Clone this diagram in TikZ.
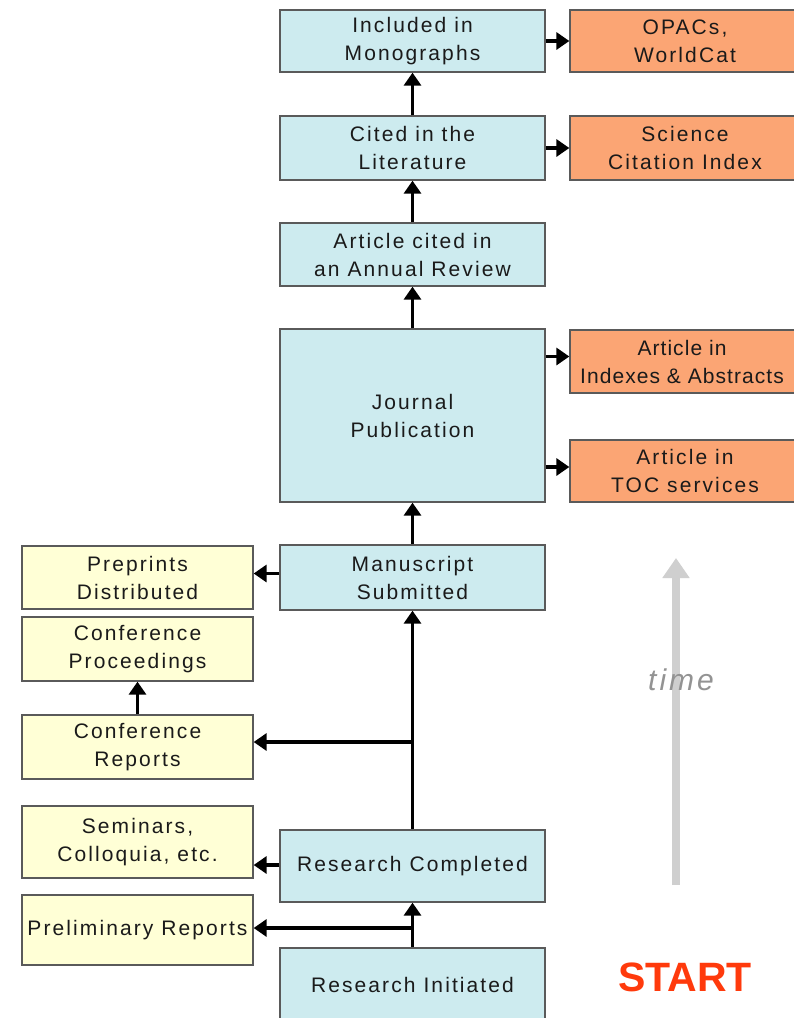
\documentclass[tikz,border=0pt]{standalone}
\usepackage{fontspec}
\setmainfont{Liberation Sans}[LetterSpace=10]
\newfontfamily\startfont{Liberation Sans}
\newfontfamily\tightfont{Liberation Sans}[LetterSpace=5]
\usetikzlibrary{arrows.meta}
\definecolor{bluebox}{HTML}{CDEBEF}
\definecolor{orangebox}{HTML}{FBA574}
\definecolor{yellowbox}{HTML}{FFFFD6}
\definecolor{boxline}{HTML}{5A5A5A}
\definecolor{textcol}{HTML}{1A1A1A}
\definecolor{startred}{HTML}{FF3A0C}
\definecolor{timegray}{HTML}{CFCFCF}
\begin{document}
\begin{tikzpicture}[x=1pt,y=-1pt,
  box/.style={draw=boxline, line width=1.3pt, align=center, inner sep=0pt,
    font=\fontsize{21}{28}\selectfont, text=textcol},
  bluenode/.style={box, fill=bluebox, minimum width=265pt},
  orangenode/.style={box, fill=orangebox, minimum width=230pt},
  yellownode/.style={box, fill=yellowbox, minimum width=231pt},
  flow/.style={line width=3.5pt, black, -{Triangle[length=13pt,width=17pt]}},
  timearrow/.style={line width=8pt, timegray, -{Triangle[length=20pt,width=26pt]}}
]
\useasboundingbox (0,0) rectangle (793,1018);
\fill[white] (0,0) rectangle (793,1018);

% blue column
\node[bluenode, minimum height=62pt] (mono) at (412.5,41) {Included in\\Monographs};
\node[bluenode, minimum height=64pt] (lit) at (412.5,148) {Cited in the\\Literature};
\node[bluenode, minimum height=63pt] (annual) at (412.5,254.5) {Article cited in\\an Annual Review};
\node[bluenode, minimum height=173pt] (journal) at (412.5,415.5) {Journal\\Publication};
\node[bluenode, minimum height=65pt] (manu) at (412.5,577.5) {Manuscript\\Submitted};
\node[bluenode, minimum height=72pt] (rcomp) at (412.5,866) {Research Completed};
\node[bluenode, minimum height=74pt] (rinit) at (412.5,985) {Research Initiated};

% orange column
\node[orangenode, minimum height=62pt] (opac) at (685,41) {OPACs,\\WorldCat};
\node[orangenode, minimum height=64pt] (sci) at (685,148) {Science\\Citation Index};
\node[orangenode, minimum height=63pt, align=left] (idx) at (685,361.5) {};
\node[text=textcol, font=\tightfont\fontsize{21}{28}\selectfont, align=center, inner sep=0pt] (idxtext) at (682,361.5) {Article in\\Indexes \& Abstracts};
\node[orangenode, minimum height=62pt] (toc) at (685,471) {Article in\\TOC services};

% yellow column
\node[yellownode, minimum height=63pt] (pre) at (137.5,577.5) {Preprints\\Distributed};
\node[yellownode, minimum height=64pt] (cproc) at (137.5,649) {Conference\\Proceedings};
\node[yellownode, minimum height=64pt] (crep) at (137.5,747) {Conference\\Reports};
\node[yellownode, minimum height=72pt] (sem) at (137.5,842) {Seminars,\\Colloquia, etc.};
\node[yellownode, minimum height=70pt] (prelim) at (137.5,930) {Preliminary Reports};

% main chain
\draw[flow] (lit.north) -- (mono.south);
\draw[flow] (annual.north) -- (lit.south);
\draw[flow] (journal.north) -- (annual.south);
\draw[flow] (manu.north) -- (journal.south);
\draw[flow] (rcomp.north) -- (manu.south);
\draw[flow] (rinit.north) -- (rcomp.south);

% right branches
\draw[flow] (mono.east) -- (opac.west);
\draw[flow] (lit.east) -- (sci.west);
\draw[flow] ([yshift=5pt]journal.east |- idx) -- ([yshift=5pt]idx.west);
\draw[flow] ([yshift=4pt]journal.east |- toc) -- ([yshift=4pt]toc.west);

% left branches
\draw[flow] ([yshift=4pt]manu.west) -- ([yshift=4pt]manu.west -| pre.east);
\draw[flow] (crep.north) -- (cproc.south);
\coordinate (b1) at (412.5,742);
\draw[flow] (b1) -- (b1 -| crep.east);
\draw[flow] ([yshift=1pt]rcomp.west) -- ([yshift=1pt]rcomp.west -| sem.east);
\coordinate (b2) at (412.5,928);
\draw[flow] (b2) -- (b2 -| prelim.east);

% time arrow
\coordinate (t0) at (676,885);
\coordinate (t1) at (676,558);
\draw[timearrow] (t0) -- (t1);
\node[text=gray!85, font=\fontsize{30}{32}\selectfont\itshape] (time) at (681,680) {time};

% START
\node[text=startred, font=\startfont\fontsize{41}{44}\selectfont\bfseries] (start) at (685,977) {START};
\end{tikzpicture}
\end{document}
